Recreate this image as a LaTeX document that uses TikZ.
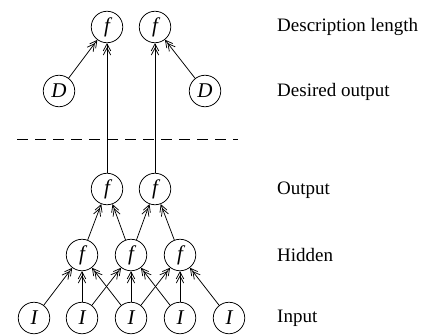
\documentclass[tikz,border=0pt]{standalone}
\usepackage{fontspec}
\setmainfont{Liberation Serif}
\usetikzlibrary{arrows.meta}
\begin{document}
\begin{tikzpicture}[x=1pt,y=-1pt,
  unit/.style={draw,circle,line width=0.75pt,minimum size=31.5pt,inner sep=0pt,
    font=\fontsize{21}{24}\selectfont\itshape},
  layer/.style={anchor=west,inner sep=0pt,font=\fontsize{19}{22}\selectfont},
  arr/.style={line width=0.75pt,
    -{Straight Barb[length=7pt,width=7.5pt,sep=-4pt]Straight Barb[length=7pt,width=7.5pt]}}]
\useasboundingbox (0,0) rectangle (422,334);

% description-length units and targets
\node[unit] (t1) at (107,27) {f};
\node[unit] (t2) at (155,27) {f};
\node[unit] (d1) at (59,91) {D};
\node[unit] (d2) at (205,91) {D};

% separator
\coordinate (sepL) at (17,139);
\coordinate (sepR) at (238,139);
\draw[line width=0.75pt,dash pattern=on 11pt off 7pt] (sepL) -- (sepR);

% network
\node[unit] (o1) at (107,189) {f};
\node[unit] (o2) at (155,189) {f};
\node[unit] (h1) at (82,255) {f};
\node[unit] (h2) at (131,255) {f};
\node[unit] (h3) at (180,255) {f};
\node[unit] (i1) at (34,318) {I};
\node[unit] (i2) at (82,318) {I};
\node[unit] (i3) at (131,318) {I};
\node[unit] (i4) at (180,318) {I};
\node[unit] (i5) at (229,318) {I};

% layer labels
\node[layer] (lDL) at (277,27) {Description length};
\node[layer] (lDO) at (277,92) {Desired output};
\node[layer] (lO) at (277,190) {Output};
\node[layer] (lH) at (277,255) {Hidden};
\node[layer] (lI) at (277,318) {Input};

% connections
\foreach \a/\b in {i1/h1,i2/h1,i3/h1,i2/h2,i3/h2,i4/h2,i3/h3,i4/h3,i5/h3,
                   h1/o1,h2/o1,h2/o2,h3/o2,d1/t1,d2/t2}
  \draw[arr] (\a) -- (\b);
\draw[arr] (o1.north) -- (t1.south);
\draw[arr] (o2.north) -- (t2.south);
\end{tikzpicture}
\end{document}
